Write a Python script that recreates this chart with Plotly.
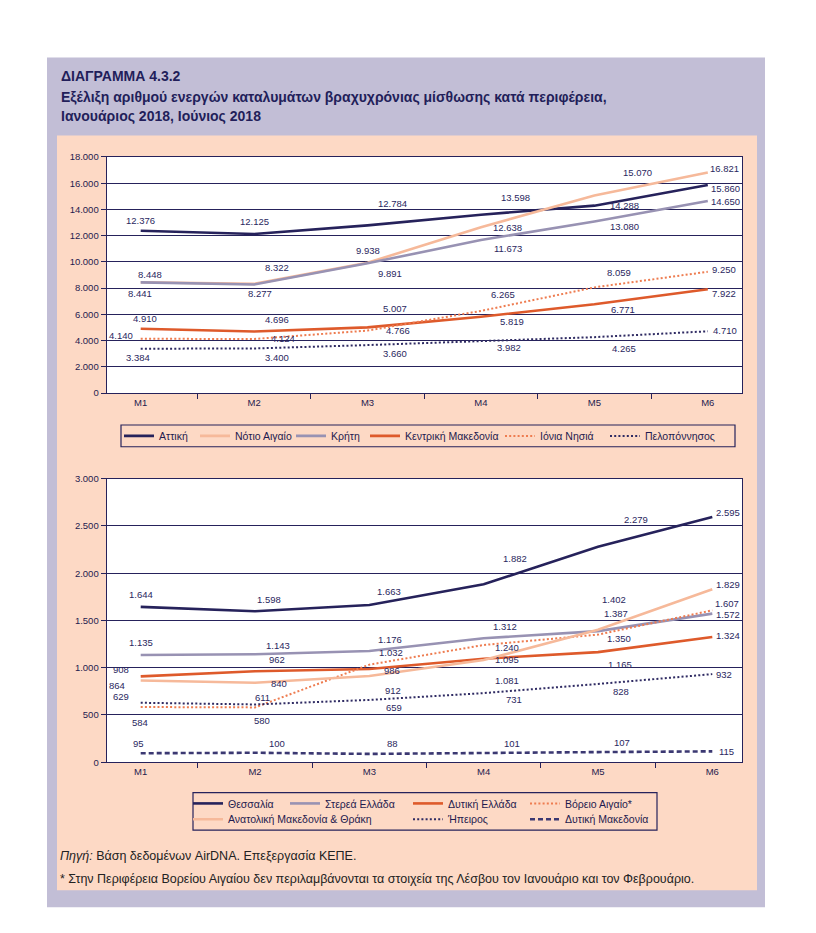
import plotly.graph_objects as go

# The page body keeps the browser's default 8px margin, so the figure is
# sized to fill the rest of the 816x933 window and coordinates are offset.
OFF = 8
W, H = 816 - 2 * OFF, 933 - 2 * OFF


def px(x):
    return (x - OFF) / W


def py(y):
    return 1 - (y - OFF) / H


# ---------------- data ----------------
months = ["M1", "M2", "M3", "M4", "M5", "M6"]

# top chart
attiki = [12376, 12125, 12784, 13598, 14288, 15860]
notio_aigaio = [8448, 8322, 9938, 12638, 15070, 16821]
kriti = [8441, 8277, 9891, 11673, 13080, 14650]
kentriki_makedonia = [4910, 4696, 5007, 5819, 6771, 7922]
ionia_nisia = [4140, 4124, 4766, 6265, 8059, 9250]
peloponnisos = [3384, 3400, 3660, 3982, 4265, 4710]

# bottom chart
thessalia = [1644, 1598, 1663, 1882, 2279, 2595]
sterea_ellada = [1135, 1143, 1176, 1312, 1387, 1572]
dytiki_ellada = [908, 962, 986, 1095, 1165, 1324]
voreio_aigaio = [584, 580, 1032, 1240, 1350, 1607]
anatoliki_makedonia = [864, 840, 912, 1081, 1402, 1829]
ipeiros = [629, 611, 659, 731, 828, 932]
dytiki_makedonia = [95, 100, 88, 101, 107, 115]

top_ticks = [0, 2000, 4000, 6000, 8000, 10000, 12000, 14000, 16000, 18000]
bottom_ticks = [0, 500, 1000, 1500, 2000, 2500, 3000]

# ---------------- styles ----------------
NAVY = "#26225b"
PEACH = "#f6b99a"
GREY = "#9892b3"
ORANGE = "#de5a2b"
ORANGE_DOT = "#ee7c50"
NAVY_DOT = "#2f2b63"
NAVY_DASH = "#3b3872"
FONT = "Liberation Sans, Arial, sans-serif"
LAVENDER = "#c2bed6"
PEACH_BG = "#fdd9c5"

# label pixel offsets (dx right, dy down) per point
top_series = [
    ("Αττική", attiki, NAVY, 2.6, "solid", (156, 435),
     [(0, -10), (0, -13), (25, -22), (35, -17), (30, 0), (18, 3)]),
    ("Νότιο Αιγαίο", notio_aigaio, PEACH, 2.6, "solid", (232, 435),
     [(9, -8), (23, -16), (0, -12), (27, 0), (43, -23), (17, -4)]),
    ("Κρήτη", kriti, GREY, 2.6, "solid", (328, 435),
     [(-1, 11), (6, 9), (22, 10), (27, 9), (30, 5), (18, 1)]),
    ("Κεντρική Μακεδονία", kentriki_makedonia, ORANGE, 2.6, "solid", (402, 435),
     [(4, -10), (23, -12), (27, -19), (31, 5), (29, 5), (16, 4)]),
    ("Ιόνια Νησιά", ionia_nisia, ORANGE_DOT, 2, "2px,2.2px", (537, 435),
     [(-20, -3), (29, 0), (30, 0), (22, -16), (25, -15), (16, -2)]),
    ("Πελοπόννησος", peloponnisos, NAVY_DOT, 2, "2px,2.2px", (642, 435),
     [(-3, 9), (23, 9), (27, 8), (28, 7), (30, 11), (17, -1)]),
]

bottom_series = [
    ("Θεσσαλία", thessalia, NAVY, 2.6, "solid", (225, 807),
     [(0, -12), (14, -12), (20, -14), (31, -26), (38, -27), (16, -4)]),
    ("Στερεά Ελλάδα", sterea_ellada, GREY, 2.6, "solid", (322, 807),
     [(0, -12), (23, -9), (21, -12), (21, -12), (18, -18), (16, 1)]),
    ("Δυτική Ελλάδα", dytiki_ellada, ORANGE, 2.6, "solid", (445, 807),
     [(-20, -7), (22, -12), (23, 1), (23, 1), (22, 12), (16, -2)]),
    ("Βόρειο Αιγαίο*", voreio_aigaio, ORANGE_DOT, 2, "2px,2.2px", (562, 807),
     [(-1, 15), (7, 13), (22, -12), (23, 2), (21, 4), (15, -7)]),
    ("Ανατολική Μακεδονία & Θράκη", anatoliki_makedonia, PEACH, 2.6, "solid", (225, 823),
     [(-24, 5), (24, 1), (24, 14), (23, 20), (16, -30), (16, -5)]),
    ("Ήπειρος", ipeiros, NAVY_DOT, 2, "2px,2.2px", (445, 823),
     [(-20, -6), (7, -7), (25, 8), (30, 6), (23, 8), (12, 0)]),
    ("Δυτική Μακεδονία", dytiki_makedonia, NAVY_DASH, 2.6, "5px,3px", (562, 823),
     [(-2, -10), (22, -9), (23, -10), (28, -9), (24, -10), (14, 0)]),
]

# plot area geometry (px, window coordinates)
PL, PR = 106.7, 742.3
T1_TOP, T1_BOT = 152.7, 391.7
T2_TOP, T2_BOT = 478.3, 765.3

fig = go.Figure()
annotations = []
legends = {}
leg_idx = 0


def add_series(series, xa, ya):
    global leg_idx
    for name, vals, color, width, dash, (lx, ly), offs in series:
        leg_idx += 1
        lname = "legend" if leg_idx == 1 else f"legend{leg_idx}"
        fig.add_trace(go.Scatter(
            x=months, y=vals, name=name, mode="lines",
            line=dict(color=color, width=width, dash=dash),
            xaxis=xa, yaxis=ya, legend=lname, hoverinfo="skip",
        ))
        legends[lname] = dict(
            x=px(lx - 37), y=py(ly), xanchor="left", yanchor="middle",
            orientation="v", bgcolor="rgba(0,0,0,0)", borderwidth=0,
            font=dict(family=FONT, size=10.5, color="#1f1b4f"),
            itemclick=False, itemdoubleclick=False,
        )
        for m, v, (dx, dy) in zip(months, vals, offs):
            annotations.append(dict(
                x=m, y=v, xref=xa, yref=ya, text=f"{v:,}".replace(",", "."),
                showarrow=False, xshift=dx, yshift=-dy,
                xanchor="center", yanchor="middle",
                font=dict(family=FONT, size=9.5, color="#2a2760"),
            ))


add_series(top_series, "x", "y")
add_series(bottom_series, "x2", "y2")

# title & notes
title_lines = [
    ("ΔΙΑΓΡΑΜΜΑ 4.3.2", 71),
    ("Εξέλιξη αριθμού ενεργών καταλυμάτων βραχυχρόνιας μίσθωσης κατά περιφέρεια,", 92),
    ("Ιανουάριος 2018, Ιούνιος 2018", 111.5),
]
for t, y in title_lines:
    annotations.append(dict(
        x=px(59), y=py(y), xref="paper", yref="paper", text=f"<b>{t}</b>",
        showarrow=False, xanchor="left", yanchor="middle",
        font=dict(family=FONT, size=14, color="#221e5a"),
    ))

notes = [
    ("<i>Πηγή:</i> Βάση δεδομένων AirDNA. Επεξεργασία ΚΕΠΕ.", 860),
    ("* Στην Περιφέρεια Βορείου Αιγαίου δεν περιλαμβάνονται τα στοιχεία της Λέσβου "
     "τον Ιανουάριο και τον Φεβρουάριο.", 884),
]
for t, y in notes:
    annotations.append(dict(
        x=px(58), y=py(y), xref="paper", yref="paper", text=t,
        showarrow=False, xanchor="left", yanchor="middle",
        font=dict(family=FONT, size=12.5, color="#222222"),
    ))

shapes = [
    dict(type="rect", xref="paper", yref="paper", x0=px(47), x1=px(765),
         y0=py(52), y1=py(912), fillcolor=LAVENDER, line=dict(width=0), layer="below"),
    dict(type="rect", xref="paper", yref="paper", x0=px(57), x1=px(757),
         y0=py(131), y1=py(895), fillcolor=PEACH_BG, line=dict(width=0), layer="below"),
    dict(type="rect", xref="paper", yref="paper", x0=px(PL), x1=px(PR),
         y0=py(T1_BOT), y1=py(T1_TOP), fillcolor="white", line=dict(width=0), layer="below"),
    dict(type="rect", xref="paper", yref="paper", x0=px(PL), x1=px(PR),
         y0=py(T2_BOT), y1=py(T2_TOP), fillcolor="white", line=dict(width=0), layer="below"),
    # legend frames
    dict(type="rect", xref="paper", yref="paper", x0=px(121), x1=px(735),
         y0=py(446), y1=py(424), line=dict(color=NAVY, width=1.2), layer="below"),
    dict(type="rect", xref="paper", yref="paper", x0=px(193), x1=px(657),
         y0=py(834), y1=py(796), line=dict(color=NAVY, width=1.2), layer="below"),
]

axis_common = dict(
    showline=True, linecolor=NAVY, linewidth=1.2, mirror=True,
    tickfont=dict(family=FONT, size=9.5, color="#1f1b4f"),
    ticks="outside", ticklen=5, tickcolor=NAVY, tickwidth=1,
    zeroline=False, fixedrange=True,
)

fig.update_layout(
    width=W, height=H, autosize=False,
    margin=dict(l=0, r=0, t=0, b=0),
    paper_bgcolor="white", plot_bgcolor="white",
    separators=",.",
    showlegend=True,
    annotations=annotations, shapes=shapes,
    xaxis=dict(domain=[px(PL), px(PR)], anchor="y", type="category",
               categoryorder="array", categoryarray=months,
               tickson="boundaries", showgrid=False, **axis_common),
    yaxis=dict(domain=[py(T1_BOT), py(T1_TOP)], anchor="x", range=[0, 18000],
               tickvals=top_ticks, tickformat=",d", showgrid=True,
               gridcolor=NAVY, gridwidth=1, **axis_common),
    xaxis2=dict(domain=[px(PL), px(PR)], anchor="y2", type="category",
                categoryorder="array", categoryarray=months,
                tickson="boundaries", showgrid=False, **axis_common),
    yaxis2=dict(domain=[py(T2_BOT), py(T2_TOP)], anchor="x2", range=[0, 3000],
                tickvals=bottom_ticks, tickformat=",d", showgrid=True,
                gridcolor=NAVY, gridwidth=1, **axis_common),
    **legends,
)

fig.write_html("out.html")
